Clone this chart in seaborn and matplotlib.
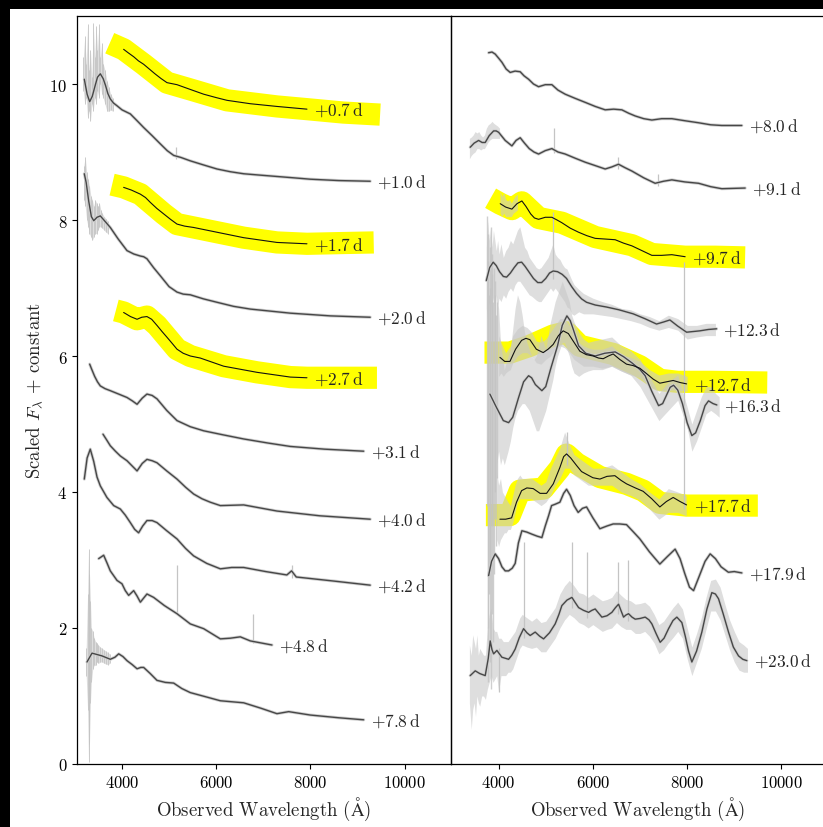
import numpy as np
import pandas as pd
import matplotlib
matplotlib.use("Agg")
import matplotlib.pyplot as plt
import seaborn as sns
from matplotlib.patches import Rectangle

sns.set_theme(style="ticks")
plt.rcParams['font.family'] = ['cmr10', 'DejaVu Serif']
plt.rcParams['mathtext.fontset'] = 'cm'
plt.rcParams['axes.formatter.use_mathtext'] = True
plt.rcParams['axes.unicode_minus'] = False

# ---------------- spectra (smoothed), wavelength in Angstrom, scaled flux + offset
# left panel
WL_07 = [4035, 4130, 4250, 4350, 4460, 4580, 4700, 4830, 4955, 5168, 5450, 5734, 6000, 6229, 6724, 7290, 7927]
FX_07 = [10.51, 10.46, 10.40, 10.34, 10.29, 10.22, 10.15, 10.08, 10.02, 9.99, 9.92, 9.85, 9.80, 9.76, 9.71, 9.67, 9.63]
WL_10 = [3200, 3260, 3314, 3370, 3420, 3480, 3540, 3600, 3650, 3700, 3752, 3820, 3894, 4000, 4177, 4320, 4460, 4640, 4813,
         4960, 5097, 5250, 5450, 5730, 6017, 6300, 6583, 6930, 7290, 7650, 7998, 8600, 9270]
FX_10 = [10.07, 9.85, 9.74, 9.82, 9.95, 10.10, 10.15, 10.08, 9.98, 9.86, 9.78, 9.72, 9.68, 9.62, 9.56, 9.46, 9.36, 9.24, 9.12,
         9.02, 8.95, 8.92, 8.87, 8.81, 8.75, 8.71, 8.68, 8.66, 8.64, 8.62, 8.60, 8.58, 8.57]
WL_17 = [4035, 4200, 4390, 4500, 4600, 4740, 4885, 5030, 5168, 5330, 5522, 6017, 6583, 7290, 7927]
FX_17 = [8.48, 8.44, 8.38, 8.33, 8.26, 8.17, 8.09, 8.01, 7.94, 7.91, 7.89, 7.82, 7.74, 7.67, 7.65]
WL_20 = [3200, 3240, 3293, 3350, 3400, 3470, 3540, 3640, 3752, 3920, 4106, 4250, 4390, 4460, 4530, 4670, 4813, 5000, 5168,
         5300, 5450, 5730, 6017, 6370, 6724, 7150, 7573, 8000, 8422, 9270]
FX_20 = [8.68, 8.55, 8.28, 8.05, 7.99, 8.04, 8.06, 7.98, 7.89, 7.72, 7.55, 7.50, 7.47, 7.46, 7.43, 7.30, 7.18, 7.02, 6.94,
         6.91, 6.90, 6.84, 6.79, 6.73, 6.69, 6.66, 6.63, 6.61, 6.59, 6.57]
WL_27 = [4035, 4180, 4320, 4420, 4530, 4630, 4743, 4850, 4950, 5060, 5168, 5300, 5450, 5662, 6159, 6866, 7573, 7927]
FX_27 = [6.64, 6.58, 6.54, 6.57, 6.58, 6.54, 6.45, 6.36, 6.28, 6.19, 6.10, 6.04, 6.00, 5.97, 5.85, 5.76, 5.69, 5.68]
WL_31 = [3314, 3360, 3420, 3480, 3540, 3640, 3752, 3930, 4106, 4220, 4320, 4430, 4530, 4640, 4743, 4950, 5168, 5450, 5734,
         6150, 6583, 7100, 7573, 8300, 9131]
FX_31 = [5.88, 5.80, 5.70, 5.62, 5.56, 5.52, 5.49, 5.44, 5.39, 5.34, 5.29, 5.38, 5.44, 5.42, 5.37, 5.20, 5.05, 4.96, 4.90,
         4.84, 4.78, 4.72, 4.67, 4.63, 4.60]
WL_40 = [3597, 3680, 3752, 3860, 3964, 4106, 4220, 4320, 4430, 4530, 4640, 4743, 4950, 5168, 5350, 5522, 5700, 5874, 6088,
         6583, 7290, 8200, 9270]
FX_40 = [4.85, 4.76, 4.68, 4.60, 4.53, 4.46, 4.38, 4.31, 4.42, 4.48, 4.46, 4.43, 4.31, 4.19, 4.07, 3.97, 3.90, 3.85, 3.80,
         3.81, 3.72, 3.65, 3.60]
WL_42 = [3200, 3260, 3327, 3400, 3470, 3540, 3680, 3824, 3964, 4070, 4177, 4270, 4353, 4440, 4530, 4640, 4743, 4950, 5168,
         5350, 5522, 5800, 6088, 6330, 6583, 7050, 7500, 7600, 7700, 8500, 9270]
FX_42 = [4.19, 4.50, 4.63, 4.45, 4.22, 4.09, 3.92, 3.80, 3.75, 3.66, 3.55, 3.45, 3.40, 3.50, 3.58, 3.58, 3.55, 3.43, 3.31,
         3.17, 3.06, 2.95, 2.87, 2.89, 2.89, 2.83, 2.78, 2.84, 2.75, 2.69, 2.63]
WL_48 = [3505, 3611, 3680, 3752, 3894, 4000, 4070, 4142, 4248, 4320, 4390, 4460, 4530, 4672, 4900, 5168, 5450, 5734, 6088,
         6300, 6512, 6724, 7184]
FX_48 = [3.02, 3.07, 2.96, 2.84, 2.70, 2.65, 2.55, 2.48, 2.55, 2.47, 2.38, 2.44, 2.50, 2.45, 2.33, 2.21, 2.06, 1.99, 1.84,
         1.85, 1.87, 1.81, 1.75]
WL_78 = [3257, 3363, 3470, 3575, 3752, 3850, 3930, 4020, 4106, 4220, 4320, 4400, 4460, 4600, 4743, 4920, 5097, 5270, 5450,
         5770, 6088, 6583, 6950, 7290, 7539, 7998, 8600, 9131]
FX_78 = [1.50, 1.63, 1.61, 1.59, 1.54, 1.57, 1.62, 1.58, 1.52, 1.46, 1.40, 1.42, 1.42, 1.33, 1.23, 1.20, 1.19, 1.11, 1.05,
         0.99, 0.93, 0.90, 0.82, 0.74, 0.77, 0.72, 0.68, 0.65]
# right panel
WL_80 = [3788, 3860, 3928, 4000, 4070, 4160, 4246, 4350, 4458, 4540, 4636, 4740, 4848, 4990, 5130, 5260, 5413, 5620, 5837,
         6050, 6261, 6440, 6615, 6760, 6898, 7080, 7252, 7460, 7676, 7950, 8242, 8500, 8736, 9160]
FX_80 = [10.46, 10.47, 10.44, 10.38, 10.32, 10.22, 10.17, 10.19, 10.18, 10.12, 10.07, 10.00, 9.96, 9.99, 9.99, 9.91, 9.85,
         9.79, 9.73, 9.67, 9.62, 9.63, 9.62, 9.57, 9.53, 9.49, 9.47, 9.49, 9.49, 9.46, 9.43, 9.40, 9.39, 9.39]
WL_91 = [3398, 3480, 3576, 3650, 3716, 3800, 3894, 3950, 4000, 4140, 4282, 4370, 4458, 4550, 4650, 4750, 4848, 4990, 5130,
         5260, 5413, 5620, 5837, 6050, 6261, 6400, 6544, 6680, 6827, 7080, 7321, 7500, 7676, 7950, 8242, 8500, 8736, 9231]
FX_91 = [9.07, 9.13, 9.17, 9.14, 9.14, 9.24, 9.31, 9.31, 9.29, 9.17, 9.09, 9.17, 9.21, 9.13, 9.05, 9.00, 8.97, 9.02, 9.05,
         9.00, 8.97, 8.91, 8.85, 8.80, 8.75, 8.78, 8.82, 8.77, 8.72, 8.62, 8.54, 8.57, 8.59, 8.56, 8.54, 8.49, 8.46, 8.47]
WL_97 = [4034, 4150, 4282, 4390, 4494, 4580, 4680, 4760, 4848, 4990, 5130, 5240, 5342, 5520, 5697, 5870, 6049, 6260, 6473,
         6650, 6827, 7040, 7252, 7460, 7676, 7958]
FX_97 = [8.24, 8.19, 8.16, 8.24, 8.28, 8.20, 8.09, 8.03, 8.01, 8.04, 8.04, 8.00, 7.96, 7.88, 7.82, 7.77, 7.73, 7.72, 7.71,
         7.66, 7.62, 7.55, 7.48, 7.48, 7.49, 7.46]
WL_123 = [3740, 3810, 3885, 3950, 4020, 4100, 4170, 4250, 4330, 4410, 4488, 4560, 4640, 4740, 4830, 4912, 5000, 5080, 5158,
          5250, 5350, 5442, 5550, 5654, 5760, 5866, 6050, 6291, 6550, 6855, 7100, 7351, 7500, 7634, 7800, 7988, 8130, 8270,
          8450, 8624]
FX_123 = [7.11, 7.30, 7.38, 7.33, 7.24, 7.17, 7.16, 7.22, 7.30, 7.37, 7.38, 7.32, 7.24, 7.14, 7.08, 7.08, 7.14, 7.22, 7.25,
          7.24, 7.20, 7.14, 7.02, 6.92, 6.84, 6.79, 6.75, 6.72, 6.68, 6.62, 6.55, 6.47, 6.50, 6.53, 6.44, 6.35, 6.36, 6.37,
          6.39, 6.40]
WL_127 = [4028, 4130, 4240, 4360, 4488, 4580, 4664, 4800, 4946, 5050, 5158, 5270, 5370, 5480, 5582, 5724, 5860, 6007, 6120,
          6219, 6330, 6431, 6570, 6714, 6850, 6997, 7140, 7280, 7421, 7560, 7704, 7850, 7988]
FX_127 = [5.98, 5.92, 5.92, 6.10, 6.23, 6.26, 6.24, 6.10, 6.05, 6.10, 6.17, 6.30, 6.37, 6.33, 6.22, 6.07, 6.02, 6.00, 5.97,
          5.96, 6.00, 6.03, 5.95, 5.88, 5.86, 5.82, 5.74, 5.66, 5.60, 5.62, 5.64, 5.61, 5.59]
WL_163 = [3815, 3950, 4100, 4212, 4300, 4420, 4530, 4636, 4700, 4780, 4918, 5000, 5100, 5250, 5350, 5449, 5520, 5580, 5697,
          5850, 6049, 6250, 6473, 6650, 6827, 7000, 7109, 7250, 7394, 7480, 7560, 7640, 7712, 7800, 7900, 8000, 8100, 8180,
          8280, 8380, 8454, 8550, 8630]
FX_163 = [5.44, 5.25, 5.05, 5.02, 5.10, 5.38, 5.62, 5.71, 5.68, 5.58, 5.49, 5.55, 5.80, 6.15, 6.45, 6.59, 6.52, 6.40, 6.15,
          6.04, 6.00, 6.04, 6.06, 5.99, 5.90, 5.80, 5.71, 5.48, 5.27, 5.30, 5.42, 5.54, 5.57, 5.50, 5.30, 5.02, 4.83, 4.87,
          5.05, 5.27, 5.34, 5.30, 5.28]
WL_177 = [4028, 4150, 4276, 4380, 4488, 4600, 4734, 4880, 5018, 5160, 5300, 5380, 5442, 5530, 5654, 5760, 5866, 6000, 6149,
          6300, 6467, 6600, 6714, 6900, 7067, 7250, 7421, 7560, 7704, 7850, 7988]
FX_177 = [3.60, 3.60, 3.62, 3.85, 4.02, 4.06, 4.05, 3.98, 3.98, 4.12, 4.36, 4.52, 4.56, 4.50, 4.39, 4.30, 4.26, 4.21, 4.19,
          4.23, 4.24, 4.17, 4.12, 4.06, 4.01, 3.90, 3.78, 3.86, 3.92, 3.86, 3.81]
WL_179 = [3788, 3850, 3928, 4000, 4070, 4140, 4212, 4290, 4352, 4420, 4494, 4600, 4706, 4820, 4918, 4990, 5060, 5124, 5200,
          5300, 5380, 5442, 5520, 5600, 5688, 5780, 5866, 6000, 6149, 6300, 6431, 6570, 6714, 6850, 6997, 7200, 7421, 7580,
          7745, 7850, 7950, 8050, 8136, 8250, 8380, 8488, 8600, 8720, 8875, 9000, 9160]
FX_179 = [2.77, 2.98, 3.09, 3.02, 2.90, 2.84, 2.84, 2.88, 2.95, 3.25, 3.43, 3.41, 3.38, 3.35, 3.33, 3.50, 3.65, 3.80, 3.82,
          3.85, 3.98, 4.04, 3.95, 3.80, 3.70, 3.76, 3.78, 3.62, 3.46, 3.50, 3.53, 3.53, 3.52, 3.42, 3.31, 3.12, 2.94, 3.05,
          3.16, 3.02, 2.80, 2.60, 2.55, 2.75, 2.98, 3.09, 3.02, 2.90, 2.82, 2.83, 2.81]
WL_230 = [3398, 3504, 3600, 3716, 3780, 3822, 3860, 3894, 3964, 4070, 4212, 4280, 4352, 4440, 4530, 4600, 4670, 4776, 4870,
          4954, 5080, 5200, 5280, 5342, 5450, 5555, 5620, 5697, 5800, 5909, 5980, 6049, 6120, 6191, 6300, 6403, 6480, 6545,
          6600, 6651, 6700, 6757, 6830, 6898, 7000, 7110, 7190, 7252, 7340, 7428, 7510, 7606, 7700, 7782, 7888, 7960, 8030,
          8100, 8200, 8312, 8420, 8524, 8600, 8666, 8760, 8878, 8980, 9090, 9180, 9267]
FX_230 = [1.30, 1.37, 1.33, 1.30, 1.55, 1.81, 1.68, 1.62, 1.67, 1.57, 1.54, 1.60, 1.69, 1.86, 1.99, 1.93, 1.89, 1.94, 1.88,
          1.84, 1.93, 2.06, 2.20, 2.33, 2.41, 2.45, 2.38, 2.30, 2.26, 2.23, 2.26, 2.28, 2.22, 2.16, 2.18, 2.23, 2.30, 2.35,
          2.25, 2.16, 2.19, 2.21, 2.16, 2.13, 2.14, 2.16, 2.12, 2.06, 1.92, 1.79, 1.85, 1.99, 2.11, 2.16, 2.08, 1.88, 1.66,
          1.50, 1.66, 1.94, 2.28, 2.52, 2.50, 2.43, 2.22, 1.94, 1.72, 1.59, 1.54, 1.52]

EPOCH_LABELS = ["+0.7", "+1.0", "+1.7", "+2.0", "+2.7", "+3.1", "+4.0", "+4.2", "+4.8", "+7.8",
                "+8.0", "+9.1", "+9.7", "+12.3", "+12.7", "+16.3", "+17.7", "+17.9", "+23.0"]
PANEL = [0, 0, 0, 0, 0, 0, 0, 0, 0, 0, 1, 1, 1, 1, 1, 1, 1, 1, 1]
HIGHLIGHT = ["+0.7", "+1.7", "+2.7", "+9.7", "+12.7", "+17.7"]
ALL_WL = [WL_07, WL_10, WL_17, WL_20, WL_27, WL_31, WL_40, WL_42, WL_48, WL_78,
          WL_80, WL_91, WL_97, WL_123, WL_127, WL_163, WL_177, WL_179, WL_230]
ALL_FX = [FX_07, FX_10, FX_17, FX_20, FX_27, FX_31, FX_40, FX_42, FX_48, FX_78,
          FX_80, FX_91, FX_97, FX_123, FX_127, FX_163, FX_177, FX_179, FX_230]

# ---------------- noise envelopes of the raw spectra (wl, low, high)
NZ10_WL = [3180, 3210, 3240, 3270, 3300, 3330, 3360, 3390, 3420, 3450, 3480, 3510, 3540, 3570, 3600, 3640, 3680, 3720, 3760, 3800]
NZ10_LO = [9.9, 9.7, 9.8, 9.5, 9.6, 9.45, 9.7, 9.6, 9.8, 9.7, 9.9, 9.8, 10.0, 9.85, 9.8, 9.7, 9.6, 9.6, 9.62, 9.6]
NZ10_HI = [10.4, 10.7, 10.3, 10.88, 10.2, 10.5, 10.1, 10.9, 10.4, 10.85, 10.5, 10.88, 10.4, 10.6, 10.3, 10.2, 10.05, 9.95, 9.85, 9.8]
NZ20_WL = [3190, 3220, 3250, 3280, 3310, 3340, 3370, 3400, 3430, 3460, 3490, 3520, 3550, 3580, 3620, 3660, 3700]
NZ20_LO = [8.3, 8.2, 8.0, 7.9, 7.8, 7.75, 7.7, 7.75, 7.8, 7.8, 7.85, 7.9, 7.9, 7.88, 7.85, 7.82, 7.8]
NZ20_HI = [8.8, 8.93, 8.7, 8.6, 8.5, 8.35, 8.3, 8.2, 8.3, 8.25, 8.2, 8.25, 8.15, 8.1, 8.05, 8.02, 7.98]
NZ78_WL = [3240, 3270, 3290, 3310, 3330, 3350, 3380, 3410, 3440, 3470, 3500, 3540, 3580, 3620, 3660, 3700, 3740]
NZ78_LO = [1.3, 0.8, 0.03, 0.3, 0.9, 1.2, 1.4, 1.45, 1.45, 1.5, 1.48, 1.5, 1.5, 1.48, 1.47, 1.46, 1.48]
NZ78_HI = [1.7, 2.5, 3.16, 2.8, 2.4, 2.0, 1.95, 1.85, 1.8, 1.78, 1.75, 1.72, 1.7, 1.68, 1.66, 1.64, 1.62]
NZ91_WL = [3380, 3420, 3460, 3500, 3540, 3580, 3620, 3660, 3700, 3740, 3780, 3820, 3860, 3900, 3940, 3980, 4020]
NZ91_LO = [8.9, 8.95, 8.98, 9.0, 9.05, 9.05, 9.03, 9.05, 9.05, 9.1, 9.15, 9.18, 9.2, 9.2, 9.2, 9.2, 9.2]
NZ91_HI = [9.2, 9.22, 9.25, 9.3, 9.28, 9.3, 9.25, 9.22, 9.25, 9.35, 9.4, 9.42, 9.45, 9.42, 9.4, 9.38, 9.35]
NZ97_WL = [4030, 4070, 4110, 4150, 4190, 4230, 4270, 4310, 4350, 4400]
NZ97_LO = [8.1, 8.05, 8.1, 8.05, 8.05, 8.05, 8.05, 8.1, 8.12, 8.15]
NZ97_HI = [8.42, 8.35, 8.4, 8.3, 8.28, 8.3, 8.25, 8.3, 8.35, 8.38]
NZ123_WL = [3740, 3770, 3800, 3830, 3860, 3890, 3920, 3950, 3980, 4010, 4050, 4100, 4150, 4200, 4250, 4300, 4350, 4400, 4450, 4500,
            4550, 4600, 4650, 4700, 4750, 4800, 4850, 4900, 4950, 5000, 5050, 5100, 5150, 5200, 5250, 5300, 5350, 5400, 5450, 5500,
            5550, 5600, 5700, 5800, 6000, 6200, 6400, 6600, 6800, 7000, 7200, 7400, 7600, 7800, 8000, 8200, 8400, 8600]
NZ123_LO = [6.7, 6.5, 6.8, 6.6, 6.9, 6.8, 6.7, 6.9, 6.75, 6.85, 6.8, 6.9, 6.85, 6.95, 7.0, 6.95, 7.05, 7.1, 7.1, 7.05,
            7.0, 6.95, 6.9, 6.88, 6.85, 6.82, 6.8, 6.8, 6.85, 6.9, 6.95, 7.0, 6.95, 7.0, 6.95, 6.9, 6.85, 6.8, 6.72, 6.7,
            6.62, 6.6, 6.65, 6.62, 6.62, 6.6, 6.58, 6.55, 6.52, 6.48, 6.42, 6.38, 6.42, 6.38, 6.25, 6.28, 6.3, 6.3]
NZ123_HI = [7.6, 8.0, 7.7, 7.9, 7.6, 7.85, 7.7, 7.55, 7.7, 7.5, 7.65, 7.45, 7.55, 7.6, 7.7, 7.65, 7.75, 7.85, 7.9, 7.75,
            7.6, 7.55, 7.45, 7.4, 7.35, 7.3, 7.28, 7.3, 7.35, 7.4, 7.45, 7.55, 7.65, 7.5, 7.45, 7.42, 7.35, 7.3, 7.28, 7.2,
            7.12, 7.05, 6.98, 6.92, 6.85, 6.8, 6.76, 6.7, 6.68, 6.62, 6.58, 6.52, 6.6, 6.55, 6.45, 6.45, 6.48, 6.48]
NZ127_WL = [4000, 4050, 4100, 4150, 4200, 4250, 4300, 4400, 4500, 4600, 4700, 4800, 4900, 5000, 5100, 5200, 5300, 5400, 5500, 5600,
            5700, 5800, 5900, 6000, 6200, 6400, 6600, 6800, 7000, 7200, 7400, 7600, 7800, 8000]
NZ127_LO = [5.7, 5.75, 5.7, 5.75, 5.78, 5.8, 5.9, 6.0, 6.05, 6.05, 6.0, 5.9, 5.88, 5.95, 6.0, 6.1, 6.15, 6.12, 6.05, 5.95,
            5.9, 5.85, 5.85, 5.85, 5.82, 5.85, 5.78, 5.72, 5.68, 5.55, 5.48, 5.5, 5.5, 5.48]
NZ127_HI = [6.3, 6.2, 6.12, 6.05, 6.1, 6.15, 6.3, 6.4, 6.45, 6.42, 6.35, 6.22, 6.2, 6.25, 6.35, 6.45, 6.55, 6.55, 6.45, 6.3,
            6.2, 6.15, 6.12, 6.1, 6.1, 6.15, 6.02, 5.98, 5.92, 5.8, 5.72, 5.75, 5.75, 5.7]
NZ163_WL = [3960, 4000, 4040, 4080, 4120, 4160, 4200, 4250, 4300, 4350, 4400, 4450, 4500, 4550, 4600, 4650, 4700, 4750, 4800, 4850,
            4900, 4950, 5000, 5050, 5100, 5150, 5200, 5250, 5300, 5350, 5400, 5450, 5500, 5550, 5600, 5700, 5800, 5900, 6000, 6200,
            6400, 6600, 6800, 7000, 7200, 7400, 7600, 7800, 8000, 8100, 8200, 8300, 8400, 8500, 8600, 8680]
NZ163_LO = [4.4, 4.6, 4.4, 4.5, 4.4, 4.5, 4.6, 4.75, 4.95, 5.1, 5.2, 5.25, 5.3, 5.3, 5.25, 5.2, 5.1, 5.0, 4.9, 4.9,
            5.0, 5.1, 5.2, 5.35, 5.5, 5.65, 5.85, 6.0, 6.1, 6.2, 6.2, 6.1, 6.0, 5.85, 5.75, 5.7, 5.75, 5.78, 5.8, 5.8,
            5.85, 5.78, 5.72, 5.55, 5.3, 5.05, 5.2, 5.35, 4.95, 4.6, 4.75, 4.95, 5.15, 5.2, 5.15, 5.1]
NZ163_HI = [6.9, 6.7, 6.2, 6.0, 5.8, 5.9, 6.0, 6.1, 6.4, 6.7, 6.9, 6.8, 6.6, 6.35, 6.2, 6.1, 6.0, 5.95, 6.0, 6.15,
            6.3, 6.2, 6.1, 6.3, 6.5, 6.65, 6.8, 6.9, 7.0, 7.1, 7.0, 6.9, 6.8, 6.6, 6.5, 6.35, 6.25, 6.2, 6.22, 6.25,
            6.28, 6.15, 6.08, 5.95, 5.7, 5.45, 5.62, 5.72, 5.25, 5.0, 5.2, 5.4, 5.55, 5.55, 5.45, 5.4]
NZ177_WL = [3960, 4000, 4040, 4080, 4120, 4160, 4200, 4250, 4300, 4350, 4400, 4450, 4500, 4600, 4700, 4800, 4900, 5000, 5100, 5200,
            5300, 5400, 5500, 5600, 5700, 5800, 5900, 6000, 6200, 6400, 6600, 6800, 7000, 7200, 7400, 7600, 7800, 7980]
NZ177_LO = [3.3, 3.2, 3.3, 3.35, 3.4, 3.4, 3.45, 3.45, 3.55, 3.7, 3.85, 3.9, 3.9, 3.9, 3.9, 3.85, 3.8, 3.85, 3.95, 4.1,
            4.2, 4.35, 4.35, 4.25, 4.2, 4.15, 4.1, 4.1, 4.1, 4.1, 4.0, 3.95, 3.88, 3.75, 3.6, 3.7, 3.7, 3.65]
NZ177_HI = [4.3, 4.1, 4.2, 4.0, 3.95, 3.9, 3.85, 3.8, 3.95, 4.1, 4.2, 4.25, 4.2, 4.2, 4.2, 4.15, 4.1, 4.15, 4.35, 4.5,
            4.65, 4.88, 4.7, 4.55, 4.5, 4.45, 4.4, 4.35, 4.35, 4.4, 4.3, 4.2, 4.12, 4.0, 3.9, 4.05, 4.0, 3.95]
NZ230_WL = [3380, 3420, 3450, 3480, 3510, 3540, 3570, 3600, 3640, 3680, 3720, 3760, 3800, 3840, 3880, 3920, 3960, 4000, 4050, 4100,
            4150, 4200, 4250, 4300, 4350, 4400, 4450, 4500, 4600, 4700, 4800, 4900, 5000, 5100, 5200, 5300, 5400, 5500, 5600, 5700,
            5800, 5900, 6000, 6100, 6200, 6300, 6400, 6500, 6600, 6700, 6800, 6900, 7000, 7100, 7200, 7300, 7400, 7500, 7600, 7700,
            7800, 7900, 8000, 8100, 8200, 8300, 8400, 8500, 8600, 8700, 8800, 8900, 9000, 9100, 9200, 9280]
NZ230_LO = [0.9, 0.51, 0.8, 0.9, 0.7, 1.0, 0.9, 0.85, 1.0, 1.0, 0.95, 1.1, 1.2, 1.3, 1.2, 1.25, 1.3, 1.06, 1.3, 1.3,
            1.3, 1.35, 1.35, 1.4, 1.5, 1.6, 1.7, 1.75, 1.72, 1.7, 1.72, 1.65, 1.65, 1.75, 1.85, 2.0, 2.12, 2.2, 2.15, 2.08,
            2.05, 2.0, 2.05, 2.0, 1.95, 1.98, 2.0, 2.08, 2.02, 1.98, 1.98, 1.92, 1.92, 1.95, 1.88, 1.78, 1.62, 1.68, 1.78, 1.86,
            1.95, 1.85, 1.55, 1.3, 1.5, 1.7, 1.98, 2.25, 2.25, 2.12, 1.9, 1.68, 1.5, 1.38, 1.35, 1.35]
NZ230_HI = [1.75, 1.6, 1.9, 1.8, 1.7, 1.9, 1.6, 1.7, 1.65, 1.6, 1.6, 2.0, 2.2, 2.3, 2.0, 1.95, 1.95, 1.85, 1.85, 1.8,
            1.8, 1.8, 1.85, 1.9, 1.95, 2.05, 2.15, 2.2, 2.15, 2.1, 2.15, 2.08, 2.1, 2.2, 2.3, 2.5, 2.62, 2.7, 2.62, 2.52,
            2.5, 2.45, 2.5, 2.45, 2.4, 2.42, 2.45, 2.55, 2.48, 2.42, 2.4, 2.35, 2.36, 2.38, 2.32, 2.2, 2.05, 2.1, 2.2, 2.3,
            2.38, 2.28, 2.0, 1.72, 1.92, 2.15, 2.45, 2.7, 2.72, 2.6, 2.35, 2.12, 1.95, 1.8, 1.75, 1.7]
# very noisy blue edge of the late spectra (streaks)
STREAK_WL = [3750, 3765, 3780, 3795, 3810, 3825, 3840, 3855, 3870, 3885, 3900, 3915, 3930, 3945, 3960]
STREAK_LO = [3.8, 2.0, 1.2, 2.5, 1.5, 3.0, 1.1, 2.2, 3.5, 1.8, 2.8, 3.6, 4.0, 3.2, 4.2]
STREAK_HI = [8.06, 7.4, 7.8, 6.9, 7.6, 7.0, 7.9, 7.2, 7.5, 6.8, 7.3, 6.9, 7.1, 6.6, 6.8]
# isolated spikes / cosmic rays: (wl, low, high)
SPIKES_LEFT = [(5168, 2.2, 2.92), (6780, 1.78, 2.21), (5150, 8.9, 9.08), (7600, 2.74, 2.92)]
SPIKES_RIGHT = [(5166, 8.98, 9.36), (6540, 8.75, 8.93), (7390, 8.5, 8.67), (5160, 7.13, 8.12),
                (7940, 3.75, 7.38), (4530, 1.85, 3.26), (5555, 2.3, 3.26), (5870, 2.15, 3.12),
                (6540, 2.2, 2.97), (6755, 2.1, 3.0), (4000, 1.06, 1.7), (5450, 4.4, 4.88)]

NOISE_LEFT = [(NZ10_WL, NZ10_LO, NZ10_HI), (NZ20_WL, NZ20_LO, NZ20_HI), (NZ78_WL, NZ78_LO, NZ78_HI)]
NOISE_RIGHT = [(NZ91_WL, NZ91_LO, NZ91_HI), (NZ97_WL, NZ97_LO, NZ97_HI), (NZ123_WL, NZ123_LO, NZ123_HI),
               (NZ127_WL, NZ127_LO, NZ127_HI), (NZ163_WL, NZ163_LO, NZ163_HI), (NZ177_WL, NZ177_LO, NZ177_HI),
               (NZ230_WL, NZ230_LO, NZ230_HI)]

# ---------------- yellow highlighter strokes (path centres)
HL07_WL = [3740, 4035, 4460, 4955, 5450, 6229, 7290, 7927, 8700, 9480]
HL07_FX = [10.60, 10.51, 10.29, 10.02, 9.92, 9.76, 9.67, 9.63, 9.58, 9.55]
HL17_WL = [3790, 4035, 4390, 4885, 5168, 5522, 6017, 6583, 7290, 7927, 8600, 9344]
HL17_FX = [8.52, 8.48, 8.38, 8.09, 7.94, 7.89, 7.82, 7.74, 7.67, 7.65, 7.66, 7.67]
HL27_WL = [3870, 4035, 4320, 4530, 4743, 5168, 5450, 6159, 6866, 7573, 7927, 8600, 9413]
HL27_FX = [6.67, 6.64, 6.54, 6.58, 6.45, 6.10, 6.00, 5.85, 5.76, 5.69, 5.68, 5.68, 5.68]
HL97_WL = [3830, 4034, 4282, 4494, 4848, 5342, 6049, 6827, 7252, 7958, 8600, 9230]
HL97_FX = [8.32, 8.24, 8.16, 8.26, 8.03, 7.96, 7.75, 7.63, 7.50, 7.46, 7.46, 7.45]
HL127_WL = [3700, 4240, 4664, 5150, 5442, 5724, 6431, 6997, 7421, 7800, 8500, 9700]
HL127_FX = [6.05, 6.05, 6.15, 6.30, 6.35, 6.15, 6.03, 5.85, 5.65, 5.62, 5.62, 5.61]
HL177_WL = [3730, 4240, 4450, 4950, 5300, 5442, 5654, 6149, 6714, 7067, 7421, 7988, 9500]
HL177_FX = [3.66, 3.66, 4.02, 4.05, 4.35, 4.55, 4.42, 4.22, 4.12, 4.02, 3.84, 3.80, 3.80]
HL_LEFT = [(HL07_WL, HL07_FX), (HL17_WL, HL17_FX), (HL27_WL, HL27_FX)]
HL_RIGHT = [(HL97_WL, HL97_FX), (HL127_WL, HL127_FX), (HL177_WL, HL177_FX)]

# ---------------- build long table
rows = []
for lab, pan, wls, fxs in zip(EPOCH_LABELS, PANEL, ALL_WL, ALL_FX):
    for w, f in zip(wls, fxs):
        rows.append({"epoch": lab, "panel": pan, "wl": w, "flux": f, "hl": lab in HIGHLIGHT})
df = pd.DataFrame(rows)

W, H = 823, 828
fig = plt.figure(figsize=(W / 100, H / 100), dpi=100)
fig.patch.set_facecolor("black")
fig.add_artist(Rectangle((10 / W, 0), 1 - 10 / W, 1 - 10 / H, transform=fig.transFigure,
                         facecolor="white", edgecolor="none", zorder=0))

bottom = 1 - 765 / H
height = (765 - 17) / H
axL = fig.add_axes([77 / W, bottom, (451 - 77) / W, height])
axR = fig.add_axes([451 / W, bottom, (451 - 77) / W, height], sharey=axL)
for a in (axL, axR):
    a.set_facecolor("none")

YELLOW = "#ffff00"
FILL = "#c8c8c8"
STREAK = "#c4c4c4"

for ax, pan, hls, noises, spikes in ((axL, 0, HL_LEFT, NOISE_LEFT, SPIKES_LEFT),
                                     (axR, 1, HL_RIGHT, NOISE_RIGHT, SPIKES_RIGHT)):
    for hw, hf in hls:
        ax.plot(hw, hf, color=YELLOW, lw=16, solid_capstyle="butt", solid_joinstyle="round", zorder=1)
    for nw, nlo, nhi in noises:
        ax.fill_between(nw, nlo, nhi, color=FILL, lw=0, alpha=0.6, zorder=2)
        if pan == 0:
            ax.vlines(nw, nlo, nhi, color=STREAK, lw=0.6, zorder=2)
    for sw, slo, shi in spikes:
        ax.vlines(sw, slo, shi, color=STREAK, lw=0.9, zorder=2)
    if pan == 1:
        ax.vlines(STREAK_WL, STREAK_LO, STREAK_HI, color=STREAK, lw=1.0, alpha=0.8, zorder=2)
    sub = df[df.panel == pan]
    plain = sub[~sub.hl]
    high = sub[sub.hl]
    sns.lineplot(data=plain, x="wl", y="flux", units="epoch", estimator=None, sort=False,
                 color="#cfcfcf", lw=2.2, ax=ax, zorder=2, legend=False)
    sns.lineplot(data=plain, x="wl", y="flux", hue="epoch",
                 palette={e: "#474747" for e in plain.epoch.unique()}, estimator=None, sort=False,
                 lw=1.0, ax=ax, zorder=3, legend=False)
    sns.lineplot(data=high, x="wl", y="flux", hue="epoch",
                 palette={e: "#111111" for e in high.epoch.unique()}, estimator=None, sort=False,
                 lw=0.8, ax=ax, zorder=3, legend=False)
    for lab, p, wls, fxs in zip(EPOCH_LABELS, PANEL, ALL_WL, ALL_FX):
        if p != pan:
            continue
        ax.annotate(r"$" + lab + r"\,\mathrm{d}$", (wls[-1], fxs[-1]), xytext=(5, 0),
                    textcoords="offset points", va="center", ha="left", fontsize=12.5, zorder=4)

axL.set_xlim(3045, 10985)
axR.set_xlim(2990, 10925)
axL.set_ylim(0, 11)
for ax in (axL, axR):
    ax.set_xticks([4000, 6000, 8000, 10000])
    ax.tick_params(axis="both", direction="out", length=3.5, width=0.8, labelsize=12, colors="black")
    ax.set_xlabel(r"Observed Wavelength ($\mathrm{\AA}$)", fontsize=13.5)
    for s in ax.spines.values():
        s.set_color("black")
        s.set_linewidth(0.9)
axL.set_yticks([0, 2, 4, 6, 8, 10])
axL.set_ylabel(r"Scaled $F_\lambda$ + constant", fontsize=13.5)
axR.tick_params(axis="y", left=False, labelleft=False)
axR.set_ylabel("")

fig.savefig("out.png", dpi=100, facecolor=fig.get_facecolor())
